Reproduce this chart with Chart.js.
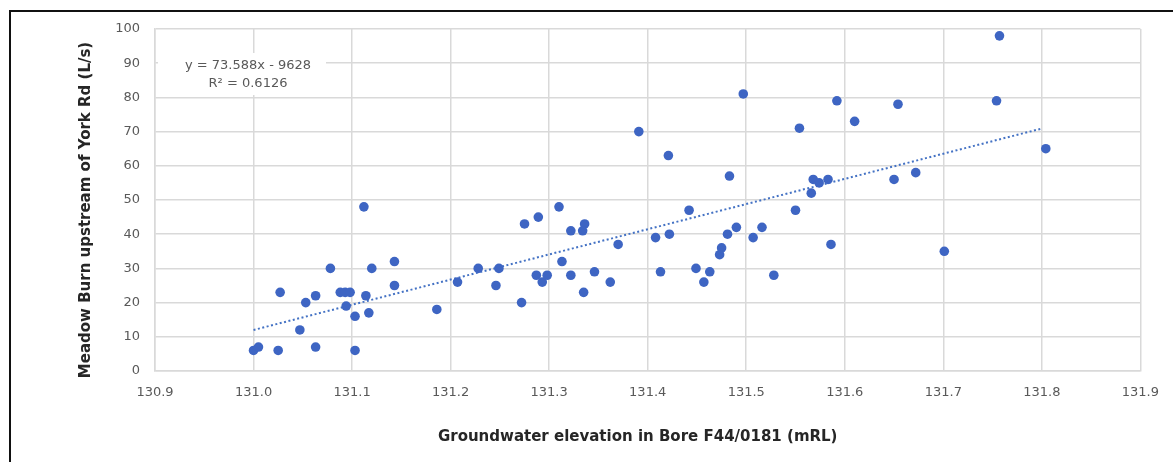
<!DOCTYPE html>
<html>
<head>
<meta charset="utf-8">
<script src="https://cdn.jsdelivr.net/npm/chart.js@4.4.1/dist/chart.umd.min.js"></script>
<style>
  html, body { margin: 0; padding: 0; background: #fff; }
  #wrap { position: relative; width: 1173px; height: 462px; overflow: hidden; }
  #frame { position: absolute; left: 9px; top: 10px; width: 1300px; height: 600px;
    border-top: 2px solid #111; border-left: 2px solid #111; }
  #chart { position: absolute; left: 0; top: 0; }
</style>
</head>
<body>
<div id="wrap">
  <div id="frame"></div>
  <canvas id="chart" width="1173" height="462"></canvas>
</div>
<script>
'use strict';

// groundwater elevation in bore F44/0181 (mRL)
var elevation = [
  131.000, 131.005, 131.025, 131.027, 131.047, 131.053, 131.063, 131.063, 131.078, 131.088,
  131.093, 131.098, 131.094, 131.103, 131.103, 131.112, 131.114, 131.117, 131.120, 131.143,
  131.143, 131.186, 131.207, 131.228, 131.246, 131.249, 131.272, 131.275, 131.287, 131.289,
  131.293, 131.298, 131.310, 131.313, 131.322, 131.322, 131.336, 131.334, 131.335, 131.346,
  131.362, 131.370, 131.391, 131.408, 131.413, 131.421, 131.422, 131.442, 131.449, 131.457,
  131.463, 131.473, 131.475, 131.481, 131.483, 131.490, 131.497, 131.507, 131.516, 131.528,
  131.550, 131.554, 131.566, 131.568, 131.574, 131.583, 131.586, 131.592, 131.610, 131.654,
  131.650, 131.672, 131.701, 131.757, 131.754, 131.804
];

// Meadow Burn flow upstream of York Rd (L/s)
var flow = [
  6, 7, 6, 23, 12, 20, 22, 7, 30, 23,
  23, 23, 19, 16, 6, 48, 22, 17, 30, 32,
  25, 18, 26, 30, 25, 30, 20, 43, 28, 45,
  26, 28, 48, 32, 41, 28, 43, 41, 23, 29,
  26, 37, 70, 39, 29, 63, 40, 47, 30, 26,
  29, 34, 36, 40, 57, 42, 81, 39, 42, 28,
  47, 71, 52, 56, 55, 56, 37, 79, 73, 78,
  56, 58, 35, 98, 79, 65
];

// linear trendline end points (y = 73.588x - 9628)
var trendX = [131.0, 131.8];
var trendY = [12.0, 70.9];

var equationLines = ['y = 73.588x - 9628', 'R\u00B2 = 0.6126'];
var xTitle = 'Groundwater elevation in Bore F44/0181 (mRL)';
var yTitle = 'Meadow Burn upstream of York Rd (L/s)';

var xTicks = [130.9, 131.0, 131.1, 131.2, 131.3, 131.4, 131.5, 131.6, 131.7, 131.8, 131.9];
var yTicks = [0, 10, 20, 30, 40, 50, 60, 70, 80, 90, 100];

var FONT = "'DejaVu Sans', Lato, sans-serif";
var GRID = '#d9d9d9';
var TEXT = '#595959';
var BLUE = '#3e65c3';

function toPoints(xs, ys) {
  return xs.map(function (x, i) { return { x: x, y: ys[i] }; });
}

// regression label sits on a white box over the grid, like Excel does it
var equationLabel = {
  id: 'equationLabel',
  beforeDatasetsDraw: function (chart) {
    var ctx = chart.ctx;
    var area = chart.chartArea;
    var cx = area.left + 93;
    var cy = area.top + 46;
    ctx.save();
    ctx.fillStyle = '#ffffff';
    ctx.fillRect(area.left + 3, cy - 22, 168, 42);
    ctx.fillStyle = TEXT;
    ctx.font = '13px ' + FONT;
    ctx.textAlign = 'center';
    ctx.textBaseline = 'middle';
    ctx.fillText(equationLines[0], cx, cy - 9);
    ctx.fillText(equationLines[1], cx, cy + 9);
    ctx.restore();
  }
};

// axis titles are a little off the plot centre in the original, so draw them here
var axisTitles = {
  id: 'axisTitles',
  afterDraw: function (chart) {
    var ctx = chart.ctx;
    var area = chart.chartArea;
    ctx.save();
    ctx.fillStyle = '#262626';
    ctx.font = 'bold 15px ' + FONT;
    ctx.textAlign = 'center';
    ctx.textBaseline = 'middle';
    ctx.fillText(xTitle, (area.left + area.right) / 2 - 10, 437);
    ctx.translate(86, (area.top + area.bottom) / 2 + 10);
    ctx.rotate(-Math.PI / 2);
    ctx.fillText(yTitle, 0, 0);
    ctx.restore();
  }
};

new Chart(document.getElementById('chart'), {
  type: 'scatter',
  data: {
    datasets: [{
      label: 'Flow',
      data: toPoints(elevation, flow),
      backgroundColor: BLUE,
      borderColor: BLUE,
      borderWidth: 0,
      pointRadius: 4.8,
      order: 1
    }, {
      type: 'line',
      label: 'Linear trend',
      data: toPoints(trendX, trendY),
      borderColor: '#4472c4',
      borderWidth: 2,
      borderDash: [2, 2.5],
      pointRadius: 0,
      fill: false,
      order: 2
    }]
  },
  options: {
    responsive: false,
    animation: false,
    layout: { padding: { left: 75, right: 28, top: 29, bottom: 0 } },
    plugins: {
      legend: { display: false },
      tooltip: { enabled: false }
    },
    scales: {
      x: {
        type: 'linear',
        min: xTicks[0],
        max: xTicks[xTicks.length - 1],
        afterFit: function (s) { s.height = 91; },
        afterBuildTicks: function (s) { s.ticks = xTicks.map(function (v) { return { value: v }; }); },
        grid: { color: GRID, lineWidth: 1.5, drawTicks: false },
        border: { color: GRID, width: 1.5 },
        ticks: {
          color: TEXT, padding: 14, maxRotation: 0,
          font: { family: FONT, size: 13 },
          callback: function (v) { return Number(v).toFixed(1); }
        },
        title: { display: false }
      },
      y: {
        min: yTicks[0],
        max: yTicks[yTicks.length - 1],
        afterFit: function (s) { s.width = 80; },
        afterBuildTicks: function (s) { s.ticks = yTicks.map(function (v) { return { value: v }; }); },
        grid: { color: GRID, lineWidth: 1.5, drawTicks: false },
        border: { color: GRID, width: 1.5 },
        ticks: {
          color: TEXT, padding: 15,
          font: { family: FONT, size: 13 }
        },
        title: { display: false }
      }
    }
  },
  plugins: [equationLabel, axisTitles]
});
</script>
</body>
</html>
